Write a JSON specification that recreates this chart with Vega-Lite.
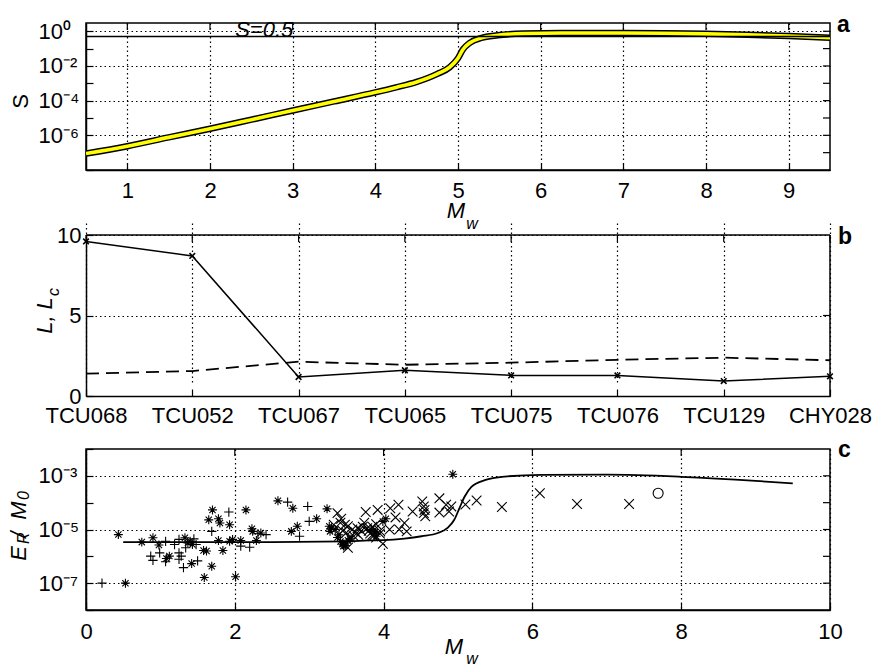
{
  "$schema": "https://vega.github.io/schema/vega-lite/v6.json",
  "background": "white",
  "padding": {"left": 7, "top": 13, "right": 5, "bottom": 5},
  "spacing": 53,
  "bounds": "flush",
  "config": {
    "font": "Liberation Sans",
    "view": {"stroke": "black", "strokeWidth": 1.5},
    "axis": {
      "labelFont": "Liberation Sans", "labelFontSize": 22, "labelColor": "black",
      "titleFont": "Liberation Sans", "titleFontSize": 22, "titleColor": "black", "titleFontWeight": "normal",
      "domainColor": "black", "domainWidth": 1.5,
      "tickColor": "black", "tickSize": -7, "tickWidth": 1.2,
      "gridColor": "#000", "gridDash": [1.5, 3], "gridWidth": 1.2,
      "labelOverlap": false, "labelFlush": false, "labelBound": false
    }
  },
  "vconcat": [
    {
      "width": 744, "height": 147,
      "layer": [
        {
          "data": {"name": "scurve", "values": [
            {"M": 0.5, "S": 8.9e-8}, {"M": 1.0, "S": 2.35e-7}, {"M": 1.5, "S": 7.6e-7}, {"M": 2.0, "S": 2.4e-6},
            {"M": 2.5, "S": 8.0e-6}, {"M": 3.0, "S": 2.7e-5}, {"M": 3.5, "S": 9.0e-5}, {"M": 4.0, "S": 3.0e-4},
            {"M": 4.25, "S": 5.8e-4}, {"M": 4.5, "S": 1.2e-3}, {"M": 4.75, "S": 3.5e-3}, {"M": 4.9, "S": 8.5e-3},
            {"M": 5.0, "S": 2.8e-2}, {"M": 5.06, "S": 9.0e-2}, {"M": 5.14, "S": 0.21}, {"M": 5.28, "S": 0.41},
            {"M": 5.48, "S": 0.59}, {"M": 5.8, "S": 0.74}, {"M": 6.25, "S": 0.8}, {"M": 7.0, "S": 0.8},
            {"M": 7.5, "S": 0.77}, {"M": 8.0, "S": 0.71}, {"M": 8.5, "S": 0.63}, {"M": 9.0, "S": 0.53}, {"M": 9.5, "S": 0.42}
          ]},
          "mark": {"type": "line", "color": "black", "strokeWidth": 6.5, "interpolate": "monotone", "clip": true},
          "encoding": {
            "x": {"field": "M", "type": "quantitative", "scale": {"domain": [0.5, 9.5], "nice": false, "zero": false},
              "axis": {"values": [1, 2, 3, 4, 5, 6, 7, 8, 9], "format": "d", "title": null, "grid": true, "labelPadding": 17}},
            "y": {"field": "S", "type": "quantitative", "scale": {"type": "log", "domain": [1e-8, 3], "nice": false},
              "axis": {
                "values": [1e-8, 1e-7, 1e-6, 1e-5, 1e-4, 1e-3, 1e-2, 1e-1, 1],
                "labelExpr": "round(log(datum.value)/LN10) == 0 ? '10⁰' : round(log(datum.value)/LN10) == -2 ? '10⁻²' : round(log(datum.value)/LN10) == -4 ? '10⁻⁴' : round(log(datum.value)/LN10) == -6 ? '10⁻⁶' : ''",
                "grid": true,
                "gridOpacity": {"condition": {"test": "round(log(datum.value)/LN10) % 2 == 0", "value": 1}, "value": 0},
                "labelAlign": "left", "labelPadding": 55,
                "title": "S", "titleFontSize": 22, "titleAngle": 270, "titleX": -59, "titleY": 78,
                "titleBaseline": "alphabetic", "titleAlign": "center"
              }}
          }
        },
        {
          "data": {"name": "scurve"},
          "mark": {"type": "line", "color": "#ffff00", "strokeWidth": 3.6, "interpolate": "monotone", "clip": true},
          "encoding": {
            "x": {"field": "M", "type": "quantitative"},
            "y": {"field": "S", "type": "quantitative", "scale": {"type": "log"}}
          }
        },
        {
          "data": {"values": [{"M": 1}, {"M": 2}, {"M": 3}, {"M": 4}, {"M": 5}, {"M": 6}, {"M": 7}, {"M": 8}, {"M": 9}]},
          "mark": {"type": "rule", "color": "black", "strokeWidth": 1.2, "y2Offset": 7},
          "encoding": {
            "x": {"field": "M", "type": "quantitative"},
            "y": {"datum": 3, "type": "quantitative", "scale": {"type": "log"}},
            "y2": {"datum": 3}
          }
        },
        {
          "data": {"values": [{"S": 1e-7}, {"S": 1e-6}, {"S": 1e-5}, {"S": 1e-4}, {"S": 1e-3}, {"S": 1e-2}, {"S": 1e-1}, {"S": 1}]},
          "mark": {"type": "rule", "color": "black", "strokeWidth": 1.2, "x2Offset": -7},
          "encoding": {
            "y": {"field": "S", "type": "quantitative", "scale": {"type": "log"}},
            "x": {"datum": 9.5, "type": "quantitative"},
            "x2": {"datum": 9.5}
          }
        },
        {
          "data": {"values": [{}]},
          "mark": {"type": "rule", "color": "black", "strokeWidth": 1.3},
          "encoding": {"y": {"datum": 0.5, "type": "quantitative", "scale": {"type": "log"}}}
        },
        {
          "data": {"values": [{}]},
          "mark": {"type": "text", "font": "Liberation Sans", "fontSize": 22, "fontStyle": "italic", "align": "center", "baseline": "alphabetic", "dy": 1, "color": "black"},
          "encoding": {
            "x": {"datum": 2.656, "type": "quantitative"},
            "y": {"datum": 0.5, "type": "quantitative", "scale": {"type": "log"}},
            "text": {"value": "S=0.5"}
          }
        },
        {
          "data": {"values": [{}]},
          "mark": {"type": "text", "font": "Liberation Sans", "fontSize": 23, "fontWeight": "bold", "align": "left", "baseline": "alphabetic", "dx": 7, "dy": 9, "color": "black"},
          "encoding": {
            "x": {"datum": 9.5, "type": "quantitative"},
            "y": {"datum": 3, "type": "quantitative", "scale": {"type": "log"}},
            "text": {"value": "a"}
          }
        },
        {
          "data": {"values": [{}]},
          "mark": {"type": "text", "font": "Liberation Sans", "fontSize": 22, "fontStyle": "italic", "align": "center", "baseline": "alphabetic", "dx": -2, "dy": 48, "color": "black"},
          "encoding": {
            "x": {"datum": 5, "type": "quantitative"},
            "y": {"datum": 1e-8, "type": "quantitative", "scale": {"type": "log"}},
            "text": {"value": "M"}
          }
        },
        {
          "data": {"values": [{}]},
          "mark": {"type": "text", "font": "Liberation Sans", "fontSize": 16, "fontStyle": "italic", "align": "center", "baseline": "alphabetic", "dx": 14, "dy": 59, "color": "black"},
          "encoding": {
            "x": {"datum": 5, "type": "quantitative"},
            "y": {"datum": 1e-8, "type": "quantitative", "scale": {"type": "log"}},
            "text": {"value": "w"}
          }
        }
      ]
    },
    {
      "width": 744, "height": 173,
      "view": {"stroke": null},
      "layer": [
        {
          "data": {"name": "stations", "values": [
            {"st": "TCU068", "L": 9.6, "Lc": 1.39},
            {"st": "TCU052", "L": 8.7, "Lc": 1.55},
            {"st": "TCU067", "L": 1.18, "Lc": 2.13},
            {"st": "TCU065", "L": 1.6, "Lc": 1.94},
            {"st": "TCU075", "L": 1.28, "Lc": 2.07},
            {"st": "TCU076", "L": 1.28, "Lc": 2.25},
            {"st": "TCU129", "L": 0.93, "Lc": 2.38},
            {"st": "CHY028", "L": 1.22, "Lc": 2.22}
          ]},
          "mark": {"type": "line", "color": "black", "strokeWidth": 1.5},
          "encoding": {
            "x": {"field": "st", "type": "nominal",
              "scale": {"type": "point", "domain": ["TCU068", "TCU052", "TCU067", "TCU065", "TCU075", "TCU076", "TCU129", "CHY028"], "padding": 0},
              "axis": {"title": null, "labelAngle": 0, "grid": true, "labelPadding": 16}},
            "y": {"field": "L", "type": "quantitative", "scale": {"domain": [0, 10], "nice": false, "range": [173, 12]},
              "axis": {"values": [0, 5, 10], "grid": true, "labelPadding": 12,
                "title": "L, L", "titleFontStyle": "italic", "titleFontSize": 22, "titleAngle": 270, "titleX": -35, "titleY": 92,
                "titleBaseline": "alphabetic", "titleAlign": "center"}}
          }
        },
        {
          "data": {"name": "stations"},
          "mark": {"type": "point", "shape": "M-1,-1L1,1M-1,1L1,-1", "size": 32, "filled": false, "stroke": "black", "strokeWidth": 1.6, "opacity": 1},
          "encoding": {
            "x": {"field": "st", "type": "nominal", "scale": {"type": "point"}},
            "y": {"field": "L", "type": "quantitative"}
          }
        },
        {
          "data": {"name": "stations"},
          "mark": {"type": "line", "color": "black", "strokeWidth": 1.8, "strokeDash": [13, 7]},
          "encoding": {
            "x": {"field": "st", "type": "nominal", "scale": {"type": "point"}},
            "y": {"field": "Lc", "type": "quantitative"}
          }
        },
        {
          "data": {"name": "stations"},
          "mark": {"type": "rule", "color": "black", "strokeWidth": 1.2, "y2Offset": 7},
          "encoding": {
            "x": {"field": "st", "type": "nominal", "scale": {"type": "point"}},
            "y": {"datum": 10, "type": "quantitative"},
            "y2": {"datum": 10}
          }
        },
        {
          "data": {"values": [{"L": 5}]},
          "mark": {"type": "rule", "color": "black", "strokeWidth": 1.2, "x2Offset": -7},
          "encoding": {
            "y": {"field": "L", "type": "quantitative"},
            "x": {"datum": "CHY028", "type": "nominal", "scale": {"type": "point"}},
            "x2": {"datum": "CHY028"}
          }
        },
        {
          "data": {"values": [{}]},
          "mark": {"type": "rule", "color": "black", "strokeWidth": 1.5},
          "encoding": {
            "x": {"datum": "TCU068", "type": "nominal", "scale": {"type": "point"}},
            "x2": {"datum": "CHY028"},
            "y": {"datum": 10, "type": "quantitative"}
          }
        },
        {
          "data": {"values": [{}]},
          "mark": {"type": "rule", "color": "black", "strokeWidth": 1.5},
          "encoding": {
            "x": {"datum": "CHY028", "type": "nominal", "scale": {"type": "point"}},
            "y": {"datum": 0, "type": "quantitative"},
            "y2": {"datum": 10}
          }
        },
        {
          "data": {"values": [{}]},
          "mark": {"type": "text", "font": "Liberation Sans", "fontSize": 23, "fontWeight": "bold", "align": "left", "baseline": "alphabetic", "dx": 8, "dy": 9, "color": "black"},
          "encoding": {
            "x": {"datum": "CHY028", "type": "nominal", "scale": {"type": "point"}},
            "y": {"datum": 10, "type": "quantitative"},
            "text": {"value": "b"}
          }
        },
        {
          "data": {"values": [{}]},
          "mark": {"type": "text", "font": "Liberation Sans", "fontSize": 16, "fontStyle": "italic", "align": "center", "baseline": "alphabetic", "angle": 270, "dy": -27, "color": "black"},
          "encoding": {
            "x": {"datum": "TCU068", "type": "nominal", "scale": {"type": "point"}},
            "y": {"datum": 6.46, "type": "quantitative"},
            "text": {"value": "c"}
          }
        }
      ]
    },
    {
      "width": 744, "height": 161,
      "layer": [
        {
          "data": {"values": [
            {"M": 0.5, "v": 3.4e-6}, {"M": 1.5, "v": 3.4e-6}, {"M": 2.5, "v": 3.4e-6}, {"M": 3.5, "v": 3.6e-6},
            {"M": 3.8, "v": 3.9e-6}, {"M": 4.0, "v": 4.0e-6}, {"M": 4.28, "v": 4.6e-6}, {"M": 4.51, "v": 5.6e-6},
            {"M": 4.73, "v": 7.4e-6}, {"M": 4.86, "v": 1.15e-5}, {"M": 4.95, "v": 2.3e-5}, {"M": 5.02, "v": 6.3e-5},
            {"M": 5.09, "v": 1.7e-4}, {"M": 5.18, "v": 3.9e-4}, {"M": 5.36, "v": 6.9e-4}, {"M": 5.63, "v": 9.4e-4},
            {"M": 6.12, "v": 1.09e-3}, {"M": 7.0, "v": 1.1e-3}, {"M": 8.0, "v": 9.2e-4}, {"M": 9.0, "v": 6.5e-4},
            {"M": 9.5, "v": 5.2e-4}
          ]},
          "mark": {"type": "line", "color": "black", "strokeWidth": 1.8, "interpolate": "monotone"},
          "encoding": {
            "x": {"field": "M", "type": "quantitative", "scale": {"domain": [0, 10], "nice": false, "zero": false},
              "axis": {"values": [0, 2, 4, 6, 8, 10], "format": "d", "title": null, "grid": true, "labelPadding": 18}},
            "y": {"field": "v", "type": "quantitative", "scale": {"type": "log", "domain": [1e-8, 1e-2], "nice": false},
              "axis": {
                "values": [1e-8, 1e-7, 1e-6, 1e-5, 1e-4, 1e-3, 1e-2],
                "labelExpr": "round(log(datum.value)/LN10) == -3 ? '10⁻³' : round(log(datum.value)/LN10) == -5 ? '10⁻⁵' : round(log(datum.value)/LN10) == -7 ? '10⁻⁷' : ''",
                "grid": true,
                "gridOpacity": {"condition": {"test": "round(log(datum.value)/LN10) % 2 != 0", "value": 1}, "value": 0},
                "labelAlign": "left", "labelPadding": 55, "title": null
              }}
          }
        },
        {
          "data": {"values": [
            {"M": 0.53, "v": 1.0e-7, "t": "ast"}, {"M": 0.435, "v": 6.46e-6, "t": "ast"}, {"M": 0.75, "v": 3.39e-6, "t": "ast"},
            {"M": 0.9, "v": 4.9e-6, "t": "ast"}, {"M": 0.98, "v": 2.63e-6, "t": "ast"}, {"M": 1.08, "v": 8.32e-7, "t": "ast"},
            {"M": 1.12, "v": 1.02e-6, "t": "ast"}, {"M": 1.33, "v": 4.9e-6, "t": "ast"}, {"M": 1.37, "v": 3.16e-6, "t": "ast"},
            {"M": 1.4, "v": 3.63e-6, "t": "ast"}, {"M": 1.43, "v": 2.75e-6, "t": "ast"}, {"M": 1.42, "v": 5.37e-7, "t": "ast"},
            {"M": 1.58, "v": 1.66e-6, "t": "ast"}, {"M": 1.62, "v": 1.58e-6, "t": "ast"}, {"M": 1.59, "v": 1.62e-7, "t": "ast"},
            {"M": 1.69, "v": 4.27e-7, "t": "ast"}, {"M": 1.7, "v": 5.37e-5, "t": "ast"}, {"M": 1.65, "v": 2.29e-5, "t": "ast"},
            {"M": 1.78, "v": 2.51e-5, "t": "ast"}, {"M": 1.8, "v": 1.74e-5, "t": "ast"}, {"M": 1.93, "v": 1.51e-5, "t": "ast"},
            {"M": 1.78, "v": 3.89e-6, "t": "ast"}, {"M": 1.84, "v": 1.66e-6, "t": "ast"}, {"M": 1.93, "v": 3.63e-6, "t": "ast"},
            {"M": 1.97, "v": 4.27e-6, "t": "ast"}, {"M": 2.01, "v": 1.74e-7, "t": "ast"}, {"M": 2.08, "v": 3.89e-6, "t": "ast"},
            {"M": 2.15, "v": 5.37e-5, "t": "ast"}, {"M": 2.23, "v": 1.07e-5, "t": "ast"}, {"M": 2.24, "v": 8.51e-6, "t": "ast"},
            {"M": 2.29, "v": 3.89e-6, "t": "ast"}, {"M": 2.35, "v": 7.41e-6, "t": "ast"}, {"M": 2.58, "v": 1.17e-4, "t": "ast"},
            {"M": 2.78, "v": 6.17e-5, "t": "ast"}, {"M": 2.76, "v": 8.51e-6, "t": "ast"}, {"M": 2.84, "v": 1.32e-5, "t": "ast"},
            {"M": 3.1, "v": 2.51e-5, "t": "ast"}, {"M": 3.24, "v": 5.89e-5, "t": "ast"}, {"M": 3.27, "v": 1.32e-5, "t": "ast"},
            {"M": 3.28, "v": 8.51e-6, "t": "ast"}, {"M": 3.3, "v": 1.12e-5, "t": "ast"}, {"M": 3.35, "v": 1.0e-5, "t": "ast"},
            {"M": 3.38, "v": 5.01e-6, "t": "ast"}, {"M": 3.4, "v": 6.31e-6, "t": "ast"}, {"M": 3.42, "v": 3.55e-6, "t": "ast"},
            {"M": 3.45, "v": 2.82e-6, "t": "ast"}, {"M": 3.46, "v": 2.4e-6, "t": "ast"}, {"M": 3.48, "v": 2.51e-6, "t": "ast"},
            {"M": 3.5, "v": 3.16e-6, "t": "ast"}, {"M": 3.52, "v": 3.98e-6, "t": "ast"}, {"M": 3.55, "v": 4.47e-6, "t": "ast"},
            {"M": 4.03, "v": 2.51e-5, "t": "ast"}, {"M": 3.99, "v": 2.0e-5, "t": "ast"}, {"M": 3.88, "v": 7.94e-6, "t": "ast"},
            {"M": 3.83, "v": 1.0e-5, "t": "ast"}, {"M": 3.9, "v": 5.62e-6, "t": "ast"}, {"M": 4.93, "v": 1.15e-3, "t": "ast"},
            {"M": 0.215, "v": 1.0e-7, "t": "plus"}, {"M": 0.87, "v": 1.02e-6, "t": "plus"}, {"M": 0.9, "v": 7.08e-7, "t": "plus"},
            {"M": 0.99, "v": 1.35e-6, "t": "plus"}, {"M": 1.07, "v": 3.63e-6, "t": "plus"}, {"M": 1.07, "v": 6.31e-7, "t": "plus"},
            {"M": 1.19, "v": 2.75e-6, "t": "plus"}, {"M": 1.25, "v": 1.35e-6, "t": "plus"}, {"M": 1.28, "v": 1.02e-6, "t": "plus"},
            {"M": 1.25, "v": 7.76e-7, "t": "plus"}, {"M": 1.31, "v": 3.8e-7, "t": "plus"}, {"M": 1.34, "v": 2.09e-6, "t": "plus"},
            {"M": 1.48, "v": 2.75e-6, "t": "plus"}, {"M": 1.5, "v": 6.76e-7, "t": "plus"}, {"M": 1.45, "v": 4.47e-6, "t": "plus"},
            {"M": 1.25, "v": 4.27e-6, "t": "plus"}, {"M": 1.92, "v": 4.47e-5, "t": "plus"}, {"M": 1.69, "v": 8.51e-6, "t": "plus"},
            {"M": 2.08, "v": 2.4e-6, "t": "plus"}, {"M": 2.2, "v": 2.19e-6, "t": "plus"}, {"M": 2.31, "v": 6.92e-6, "t": "plus"},
            {"M": 2.42, "v": 6.46e-6, "t": "plus"}, {"M": 2.71, "v": 1.05e-4, "t": "plus"}, {"M": 2.98, "v": 7.24e-5, "t": "plus"},
            {"M": 2.87, "v": 5.62e-6, "t": "plus"}, {"M": 3.0, "v": 2.0e-5, "t": "plus"},
            {"M": 3.38, "v": 4.07e-5, "t": "x"}, {"M": 3.33, "v": 1.51e-5, "t": "x"}, {"M": 3.42, "v": 1.78e-5, "t": "x"},
            {"M": 3.48, "v": 1.51e-5, "t": "x"}, {"M": 3.52, "v": 1.32e-5, "t": "x"}, {"M": 3.45, "v": 8.91e-6, "t": "x"},
            {"M": 3.5, "v": 7.59e-6, "t": "x"}, {"M": 3.52, "v": 2.09e-6, "t": "x"}, {"M": 3.58, "v": 1.0e-5, "t": "x"},
            {"M": 3.62, "v": 7.94e-6, "t": "x"}, {"M": 3.65, "v": 1.12e-5, "t": "x"}, {"M": 3.7, "v": 8.91e-6, "t": "x"},
            {"M": 3.72, "v": 1.26e-5, "t": "x"}, {"M": 3.76, "v": 4.47e-5, "t": "x"}, {"M": 3.74, "v": 1.78e-5, "t": "x"},
            {"M": 3.78, "v": 1.12e-5, "t": "x"}, {"M": 3.8, "v": 8.91e-6, "t": "x"}, {"M": 3.82, "v": 7.08e-6, "t": "x"},
            {"M": 3.85, "v": 1.26e-5, "t": "x"}, {"M": 3.88, "v": 1.0e-5, "t": "x"}, {"M": 3.92, "v": 5.37e-5, "t": "x"},
            {"M": 3.9, "v": 1.58e-5, "t": "x"}, {"M": 3.6, "v": 5.62e-6, "t": "x"}, {"M": 3.55, "v": 5.01e-6, "t": "x"},
            {"M": 3.66, "v": 6.31e-6, "t": "x"}, {"M": 3.86, "v": 5.62e-6, "t": "x"}, {"M": 3.95, "v": 8.91e-6, "t": "x"},
            {"M": 3.43, "v": 2.51e-5, "t": "x"}, {"M": 4.09, "v": 6.17e-5, "t": "x"}, {"M": 4.2, "v": 8.32e-5, "t": "x"},
            {"M": 4.16, "v": 2.82e-5, "t": "x"}, {"M": 4.28, "v": 1.74e-5, "t": "x"}, {"M": 4.08, "v": 1.0e-5, "t": "x"},
            {"M": 4.21, "v": 1.0e-5, "t": "x"}, {"M": 4.31, "v": 8.51e-6, "t": "x"}, {"M": 4.39, "v": 4.68e-5, "t": "x"},
            {"M": 4.52, "v": 1.1e-4, "t": "x"}, {"M": 4.54, "v": 7.24e-5, "t": "x"}, {"M": 4.55, "v": 5.37e-5, "t": "x"},
            {"M": 4.54, "v": 4.07e-5, "t": "x"}, {"M": 4.56, "v": 3.09e-5, "t": "x"}, {"M": 4.75, "v": 1.45e-4, "t": "x"},
            {"M": 4.75, "v": 4.27e-5, "t": "x"}, {"M": 4.84, "v": 8.32e-5, "t": "x"}, {"M": 4.91, "v": 7.24e-5, "t": "x"},
            {"M": 4.88, "v": 4.68e-5, "t": "x"}, {"M": 5.1, "v": 8.5e-5, "t": "x"}, {"M": 5.25, "v": 1.2e-4, "t": "x"},
            {"M": 5.59, "v": 6.9e-5, "t": "x"}, {"M": 3.99, "v": 2.95e-6, "t": "x"}, {"M": 3.85, "v": 6.31e-6, "t": "x"},
            {"M": 3.9, "v": 5.01e-6, "t": "x"}, {"M": 3.95, "v": 7.08e-6, "t": "x"}, {"M": 6.1, "v": 2.24e-4, "t": "x"},
            {"M": 6.6, "v": 8.91e-5, "t": "x"}, {"M": 7.3, "v": 8.91e-5, "t": "x"},
            {"M": 7.69, "v": 2.24e-4, "t": "o"}
          ]},
          "mark": {"type": "point", "filled": false, "stroke": "black", "strokeWidth": 1.1, "opacity": 1},
          "encoding": {
            "x": {"field": "M", "type": "quantitative"},
            "y": {"field": "v", "type": "quantitative", "scale": {"type": "log"}},
            "shape": {"field": "t", "type": "nominal", "legend": null,
              "scale": {"domain": ["ast", "plus", "x", "o"], "range": ["M-1,0L1,0M0,-1L0,1M-0.7,-0.7L0.7,0.7M-0.7,0.7L0.7,-0.7", "M-1,0L1,0M0,-1L0,1", "M-1,-1L1,1M-1,1L1,-1", "circle"]}},
            "size": {"field": "t", "type": "ordinal", "legend": null,
              "scale": {"domain": ["ast", "plus", "x", "o"], "range": [80, 100, 60, 70]}}
          }
        },
        {
          "data": {"values": [{"M": 2}, {"M": 4}, {"M": 6}, {"M": 8}]},
          "mark": {"type": "rule", "color": "black", "strokeWidth": 1.2, "y2Offset": 7},
          "encoding": {
            "x": {"field": "M", "type": "quantitative"},
            "y": {"datum": 1e-2, "type": "quantitative", "scale": {"type": "log"}},
            "y2": {"datum": 1e-2}
          }
        },
        {
          "data": {"values": [{"v": 1e-7}, {"v": 1e-6}, {"v": 1e-5}, {"v": 1e-4}, {"v": 1e-3}]},
          "mark": {"type": "rule", "color": "black", "strokeWidth": 1.2, "x2Offset": -7},
          "encoding": {
            "y": {"field": "v", "type": "quantitative", "scale": {"type": "log"}},
            "x": {"datum": 10, "type": "quantitative"},
            "x2": {"datum": 10}
          }
        },
        {
          "data": {"values": [{}]},
          "mark": {"type": "text", "font": "Liberation Sans", "fontSize": 23, "fontWeight": "bold", "align": "left", "baseline": "alphabetic", "dx": 8, "dy": 8, "color": "black"},
          "encoding": {
            "x": {"datum": 10, "type": "quantitative"},
            "y": {"datum": 1e-2, "type": "quantitative", "scale": {"type": "log"}},
            "text": {"value": "c"}
          }
        },
        {
          "data": {"values": [{}]},
          "mark": {"type": "text", "font": "Liberation Sans", "fontSize": 22, "fontStyle": "italic", "align": "center", "baseline": "alphabetic", "dx": -4, "dy": 44, "color": "black"},
          "encoding": {
            "x": {"datum": 5, "type": "quantitative"},
            "y": {"datum": 1e-8, "type": "quantitative", "scale": {"type": "log"}},
            "text": {"value": "M"}
          }
        },
        {
          "data": {"values": [{}]},
          "mark": {"type": "text", "font": "Liberation Sans", "fontSize": 16, "fontStyle": "italic", "align": "center", "baseline": "alphabetic", "dx": 14, "dy": 54, "color": "black"},
          "encoding": {
            "x": {"datum": 5, "type": "quantitative"},
            "y": {"datum": 1e-8, "type": "quantitative", "scale": {"type": "log"}},
            "text": {"value": "w"}
          }
        },
        {
          "data": {"values": [{}]},
          "mark": {"type": "text", "font": "Liberation Sans", "fontSize": 22, "fontStyle": "italic", "align": "left", "baseline": "alphabetic", "angle": 270, "dy": -60, "color": "black"},
          "encoding": {
            "x": {"datum": 0, "type": "quantitative"},
            "y": {"datum": 6.8e-7, "type": "quantitative", "scale": {"type": "log"}},
            "text": {"value": "E"}
          }
        },
        {
          "data": {"values": [{}]},
          "mark": {"type": "text", "font": "Liberation Sans", "fontSize": 16, "fontStyle": "italic", "align": "left", "baseline": "alphabetic", "angle": 270, "dy": -57, "color": "black"},
          "encoding": {
            "x": {"datum": 0, "type": "quantitative"},
            "y": {"datum": 2.9e-6, "type": "quantitative", "scale": {"type": "log"}},
            "text": {"value": "R"}
          }
        },
        {
          "data": {"values": [{}]},
          "mark": {"type": "text", "font": "Liberation Sans", "fontSize": 22, "fontStyle": "italic", "align": "left", "baseline": "alphabetic", "angle": 270, "dy": -60, "color": "black"},
          "encoding": {
            "x": {"datum": 0, "type": "quantitative"},
            "y": {"datum": 4.9e-6, "type": "quantitative", "scale": {"type": "log"}},
            "text": {"value": "/"}
          }
        },
        {
          "data": {"values": [{}]},
          "mark": {"type": "text", "font": "Liberation Sans", "fontSize": 22, "fontStyle": "italic", "align": "left", "baseline": "alphabetic", "angle": 270, "dy": -60, "color": "black"},
          "encoding": {
            "x": {"datum": 0, "type": "quantitative"},
            "y": {"datum": 2.3e-5, "type": "quantitative", "scale": {"type": "log"}},
            "text": {"value": "M"}
          }
        },
        {
          "data": {"values": [{}]},
          "mark": {"type": "text", "font": "Liberation Sans", "fontSize": 16, "fontStyle": "italic", "align": "left", "baseline": "alphabetic", "angle": 270, "dy": -57, "color": "black"},
          "encoding": {
            "x": {"datum": 0, "type": "quantitative"},
            "y": {"datum": 1.27e-4, "type": "quantitative", "scale": {"type": "log"}},
            "text": {"value": "0"}
          }
        }
      ]
    }
  ]
}
